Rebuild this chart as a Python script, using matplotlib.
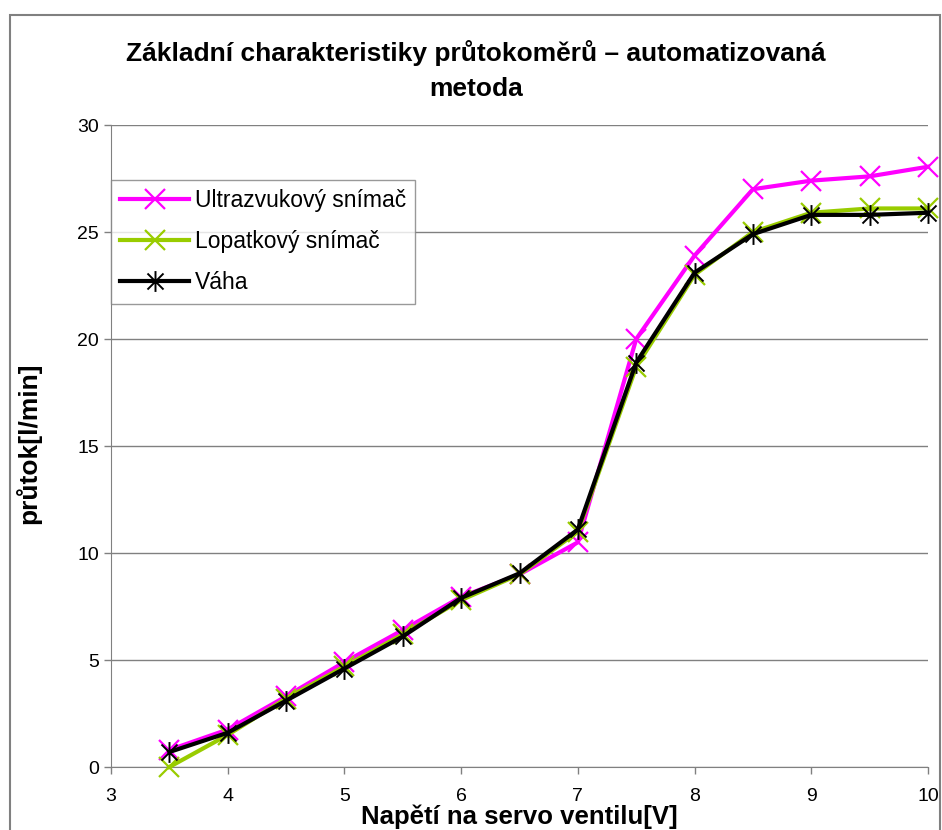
import matplotlib
matplotlib.use("Agg")
import matplotlib.pyplot as plt
from matplotlib.path import Path
from matplotlib.patches import Rectangle

plt.rcParams['font.family'] = ['Liberation Sans', 'DejaVu Sans']

napeti = [3.5, 4, 4.5, 5, 5.5, 6, 6.5, 7, 7.5, 8, 8.5, 9, 9.5, 10]
ultrazvuk = [0.8, 1.75, 3.3, 4.9, 6.4, 7.95, 9.0, 10.5, 20.0, 23.9, 27.0, 27.4, 27.6, 28.05]
lopatka = [0.0, 1.5, 3.2, 4.7, 6.2, 7.8, 9.0, 11.0, 18.7, 23.0, 25.0, 25.9, 26.1, 26.1]
vaha = [0.7, 1.6, 3.1, 4.6, 6.1, 7.9, 9.05, 11.1, 18.9, 23.1, 24.9, 25.8, 25.8, 25.9]

# asterisk marker: X plus vertical bar
star = Path([(-1, -1), (1, 1), (-1, 1), (1, -1), (0, -1.3), (0, 1.3)],
            [Path.MOVETO, Path.LINETO, Path.MOVETO, Path.LINETO, Path.MOVETO, Path.LINETO])

fig = plt.figure(figsize=(9.42, 8.3), dpi=100)
fig.patches.append(Rectangle((10 / 942, -0.01), (940 - 10) / 942, 1 - 15 / 830 + 0.01,
                             transform=fig.transFigure, fill=False,
                             edgecolor='#808080', linewidth=1.5))
ax = fig.add_axes([111 / 942, 1 - 767 / 830, (928 - 111) / 942, (767 - 125) / 830])

ax.plot(napeti, ultrazvuk, color='#ff00ff', lw=3, marker='x', ms=15, mew=1.6,
        label='Ultrazvukový snímač', clip_on=False, zorder=3)
ax.plot(napeti, lopatka, color='#99cc00', lw=3, marker='x', ms=15, mew=1.6,
        label='Lopatkový snímač', clip_on=False, zorder=4)
ax.plot(napeti, vaha, color='black', lw=3, marker=star, ms=15, mew=1.4,
        label='Váha', clip_on=False, zorder=5)

ax.set_xlim(3, 10)
ax.set_ylim(0, 30)
ax.set_xticks(range(3, 11))
ax.set_yticks(range(0, 31, 5))
ax.yaxis.grid(True, color='#808080', lw=1)
ax.set_axisbelow(True)
for s in ['top', 'right']:
    ax.spines[s].set_visible(False)
for s in ['left', 'bottom']:
    ax.spines[s].set_color('#808080')
ax.tick_params(colors='#808080', labelcolor='black', labelsize=14, length=5, width=1)
ax.tick_params(axis='x', pad=10)

ax.set_xlabel('Napětí na servo ventilu[V]', fontsize=18.5, fontweight='bold', labelpad=0)
ax.xaxis.set_label_coords(0.5, -0.058)
ax.set_ylabel('průtok[l/min]', fontsize=19, fontweight='bold')
ax.yaxis.set_label_coords(-0.085, 0.505)

fig.text(0.505, 0.915, 'Základní charakteristiky průtokoměrů – automatizovaná\nmetoda',
         ha='center', va='center', fontsize=19, fontweight='bold', linespacing=1.6)

leg = ax.legend(loc='upper left', bbox_to_anchor=(0.0, 0.915), fontsize=16.5,
                frameon=True, fancybox=False, edgecolor='#808080',
                handlelength=3.0, borderpad=0.4, labelspacing=0.8,
                handletextpad=0.25, borderaxespad=0)
leg.get_frame().set_linewidth(1)

fig.savefig('out.png', dpi=100)
